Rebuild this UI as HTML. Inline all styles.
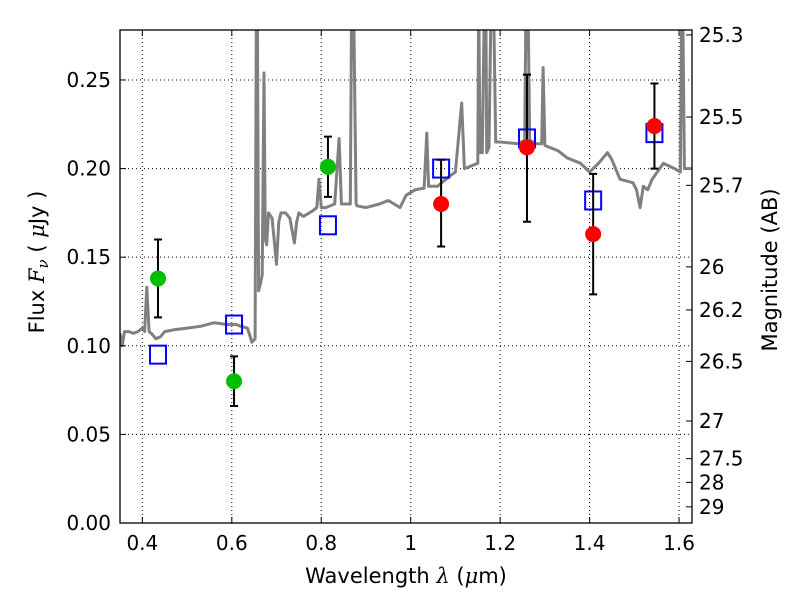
<!DOCTYPE html>
<html><head><meta charset="utf-8"><style>body{margin:0;background:#fff}svg{font-family:"DejaVu Sans","Liberation Sans",sans-serif}</style></head>
<body>
<svg id="c" width="800" height="600" xmlns="http://www.w3.org/2000/svg"></svg>
<script>
const specLam=[0.35,0.355,0.36,0.37,0.38,0.39,0.40,0.405,0.41,0.415,0.42,0.43,0.44,0.45,0.47,0.50,0.53,0.56,0.59,0.61,0.62,0.635,0.645,0.652,0.655,0.657,0.66,0.664,0.668,0.672,0.675,0.678,0.682,0.69,0.70,0.705,0.71,0.72,0.73,0.74,0.745,0.75,0.76,0.78,0.79,0.795,0.80,0.81,0.83,0.84,0.845,0.85,0.865,0.868,0.872,0.878,0.88,0.90,0.93,0.95,0.976,0.99,1.01,1.03,1.036,1.04,1.06,1.088,1.10,1.114,1.12,1.15,1.152,1.155,1.16,1.165,1.168,1.17,1.175,1.18,1.185,1.19,1.2,1.24,1.255,1.258,1.262,1.266,1.28,1.293,1.296,1.30,1.33,1.35,1.38,1.40,1.42,1.44,1.45,1.468,1.497,1.505,1.513,1.52,1.53,1.54,1.565,1.59,1.603,1.606,1.608,1.612,1.62,1.63];
const specFlux=[0.107,0.100,0.108,0.108,0.107,0.108,0.110,0.108,0.133,0.108,0.107,0.104,0.105,0.108,0.109,0.110,0.111,0.113,0.112,0.112,0.111,0.110,0.102,0.104,0.300,0.300,0.131,0.135,0.140,0.254,0.160,0.157,0.175,0.172,0.146,0.170,0.175,0.175,0.172,0.158,0.170,0.175,0.173,0.176,0.178,0.194,0.178,0.178,0.180,0.217,0.180,0.180,0.180,0.300,0.300,0.180,0.179,0.178,0.180,0.182,0.178,0.185,0.188,0.189,0.220,0.190,0.190,0.196,0.198,0.237,0.200,0.203,0.300,0.209,0.209,0.300,0.300,0.209,0.212,0.300,0.300,0.215,0.215,0.214,0.216,0.300,0.300,0.216,0.214,0.214,0.257,0.213,0.210,0.206,0.203,0.198,0.203,0.209,0.205,0.194,0.192,0.188,0.178,0.190,0.188,0.194,0.203,0.200,0.198,0.300,0.300,0.200,0.200,0.200];
const obsLam=[0.435,0.605,0.815,1.068,1.26,1.408,1.545];
const obsFlux=[0.138,0.080,0.201,0.180,0.212,0.163,0.224];
const obsLo=[0.116,0.066,0.184,0.156,0.170,0.129,0.200];
const obsHi=[0.160,0.094,0.218,0.205,0.253,0.197,0.248];
const obsColor=['#00bf00','#00bf00','#00bf00','#ff0000','#ff0000','#ff0000','#ff0000'];
const modelFlux=[0.095,0.112,0.168,0.200,0.217,0.182,0.220];
const xTicks=[0.4,0.6,0.8,1.0,1.2,1.4,1.6];
const xTickLabels=['0.4','0.6','0.8','1','1.2','1.4','1.6'];
const yTicks=[0,0.05,0.10,0.15,0.20,0.25];
const yTickLabels=['0.00','0.05','0.10','0.15','0.20','0.25'];
const magTicks=[25.3,25.5,25.7,26,26.2,26.5,27,27.5,28,29];
const magLabels=['25.3','25.5','25.7','26','26.2','26.5','27','27.5','28','29'];

const L=120,R=692,T=30,B=523,x0=0.35,x1=1.629,y0=0,y1=0.2782;
const X=v=>L+(v-x0)/(x1-x0)*(R-L);
const Y=v=>B-(v-y0)/(y1-y0)*(B-T);
const svg=document.getElementById('c');
const NS='http://www.w3.org/2000/svg';
function el(t,a,p){const e=document.createElementNS(NS,t);for(const k in a)e.setAttribute(k,a[k]);(p||svg).appendChild(e);return e;}
const clip=el('clipPath',{id:'pc'});el('rect',{x:L,y:T,width:R-L,height:B-T},clip);
xTicks.forEach(v=>{const g=el('line',{x1:X(v),x2:X(v),y1:T,y2:B,stroke:'#000','stroke-dasharray':'1,3','stroke-width':1});

});
yTicks.forEach(v=>{const g=el('line',{x1:L,x2:R,y1:Y(v),y2:Y(v),stroke:'#000','stroke-dasharray':'1,3','stroke-width':1});

});
let d='';specLam.forEach((l,i)=>{d+=(i?'L':'M')+X(l).toFixed(1)+','+Y(specFlux[i]).toFixed(1);});
const sp=el('path',{d:d,fill:'none',stroke:'#808080','stroke-width':3,'clip-path':'url(#pc)','stroke-linejoin':'round'});


modelFlux.forEach((f,i)=>{const r=el('rect',{x:X(obsLam[i])-8,y:Y(f)-9,width:16,height:18,fill:'none',stroke:'#0000ff','stroke-width':2});

});
obsLam.forEach((l,i)=>{const x=X(l);
const e=el('path',{d:`M${x},${Y(obsLo[i])}V${Y(obsHi[i])}M${x-4},${Y(obsLo[i])}h8M${x-4},${Y(obsHi[i])}h8`,stroke:'#000','stroke-width':2,fill:'none'});


const c=el('circle',{cx:x,cy:Y(obsFlux[i]),r:8,fill:obsColor[i]});

});
const fr=el('rect',{x:L,y:T,width:R-L,height:B-T,fill:'none',stroke:'#000','stroke-width':1.3});


xTicks.forEach((v,i)=>{el('line',{x1:X(v),x2:X(v),y1:B,y2:B-6,stroke:'#000'});el('line',{x1:X(v),x2:X(v),y1:T,y2:T+6,stroke:'#000'});
const t=el('text',{x:X(v),y:B+27,'text-anchor':'middle','font-size':20});t.textContent=xTickLabels[i];

});
yTicks.forEach((v,i)=>{el('line',{x1:L,x2:L+6,y1:Y(v),y2:Y(v),stroke:'#000'});
const t=el('text',{x:L-9,y:Y(v)+7,'text-anchor':'end','font-size':20});t.textContent=yTickLabels[i];

});
magTicks.forEach((m,i)=>{const f=Math.pow(10,(23.9-m)/2.5);const y=Y(f);
el('line',{x1:R,x2:R-6,y1:y,y2:y,stroke:'#000'});
const t=el('text',{x:R+7,y:y+7,'font-size':20});t.textContent=magLabels[i];

});
const xt=el('text',{x:406,y:583,'text-anchor':'middle','font-size':21});xt.innerHTML='Wavelength  <tspan font-style="italic" font-family="DejaVu Serif,serif">λ</tspan> (<tspan font-style="italic" font-family="DejaVu Serif,serif">μ</tspan>m)';


const yt=el('text',{x:0,y:0,'text-anchor':'middle','font-size':21,transform:'translate(44,262) rotate(-90)'});yt.innerHTML='Flux  <tspan font-style="italic" font-family="DejaVu Serif,serif">F<tspan font-size="15" dy="4">ν</tspan></tspan><tspan dy="-4">  ( </tspan><tspan font-style="italic" font-family="DejaVu Serif,serif">μ</tspan>Jy )';


const rt=el('text',{x:0,y:0,'text-anchor':'middle','font-size':21,transform:'translate(777,270) rotate(-90)'});rt.textContent='Magnitude (AB)';


</script>
</body></html>
